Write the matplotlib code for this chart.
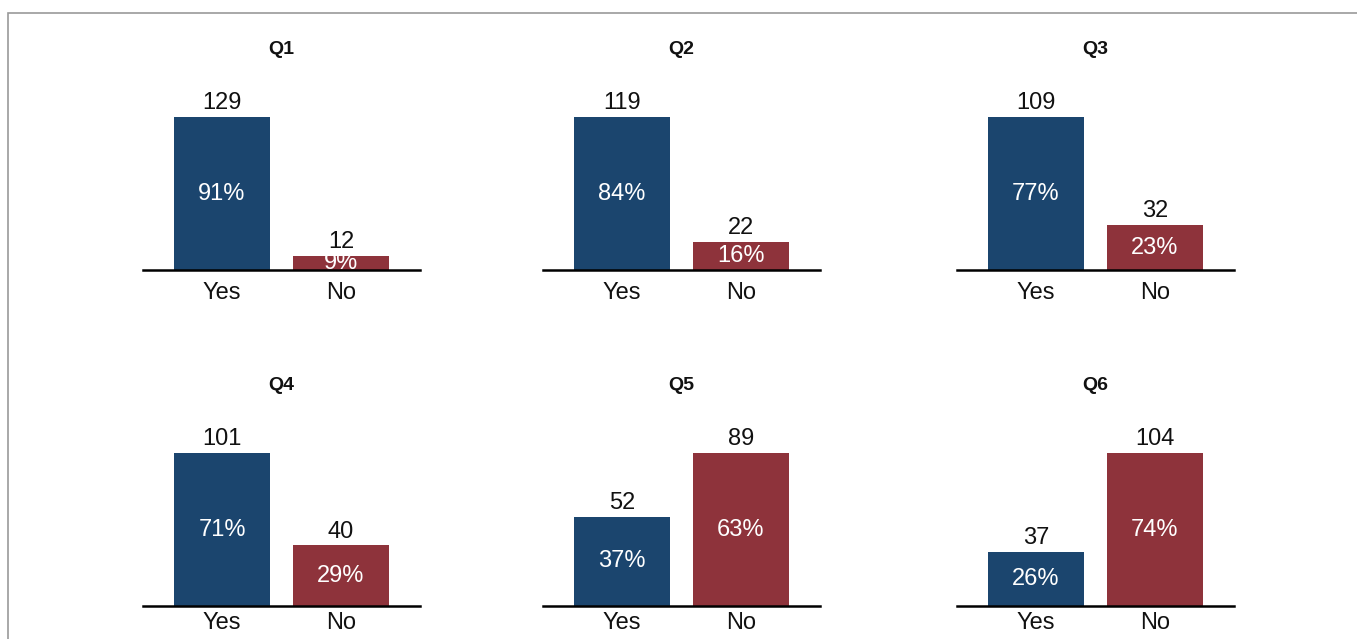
import matplotlib

matplotlib.use("Agg")
import matplotlib.pyplot as plt
from matplotlib.patches import Rectangle

plt.rcParams["font.family"] = ["Liberation Sans", "DejaVu Sans"]

# survey answers per question
questions = ["Q1", "Q2", "Q3", "Q4", "Q5", "Q6"]
answers = ["Yes", "No"]
yes_counts = [129, 119, 109, 101, 52, 37]
no_counts = [12, 22, 32, 40, 89, 104]
yes_pct = ["91%", "84%", "77%", "71%", "37%", "26%"]
no_pct = ["9%", "16%", "23%", "29%", "63%", "74%"]

BLUE = "#1b456e"
RED = "#8e333b"

W, H = 1357, 639
fig = plt.figure(figsize=(W / 100, H / 100), dpi=100)

# gray frame, cut off at the right and bottom like the source image
fig.patches.append(
    Rectangle(
        (8 / W, -0.1), 1.2, 1.1 - 13 / H,
        transform=fig.transFigure, fill=False, edgecolor="#9a9a9a", lw=1.2,
    )
)

col_left = [143, 543, 957]
row_base = [270, 606]
row_pad = [8.5, 4.5]  # bottom row labels sit right at the image edge
ax_w, ax_h = 277, 190

for i, q in enumerate(questions):
    r, c = divmod(i, 3)
    left = col_left[c]
    bottom = H - row_base[r]
    ax = fig.add_axes([left / W, bottom / H, ax_w / W, ax_h / H])
    counts = [yes_counts[i], no_counts[i]]
    pcts = [yes_pct[i], no_pct[i]]
    ax.bar([0, 1], counts, width=0.8, color=[BLUE, RED])
    top = max(counts) * ax_h / 153
    ax.set_ylim(0, top)
    ax.set_xlim(-0.664, 1.664)
    for x, n, p in zip([0, 1], counts, pcts):
        ax.annotate(str(n), (x, n), xytext=(0, 2), textcoords="offset points",
                    ha="center", va="bottom", fontsize=17, color="#111111")
        ax.text(x, n / 2, p, ha="center", va="center", fontsize=17, color="white")
    ax.set_xticks([0, 1], answers, fontsize=17, color="#111111")
    ax.set_yticks([])
    ax.tick_params(axis="x", length=0, pad=row_pad[r])
    for s in ("top", "right", "left"):
        ax.spines[s].set_visible(False)
    ax.spines["bottom"].set_linewidth(1.8)
    ax.set_title(q, fontsize=14, fontweight="bold", pad=19, color="#111111")

fig.savefig("out.png", dpi=100)
